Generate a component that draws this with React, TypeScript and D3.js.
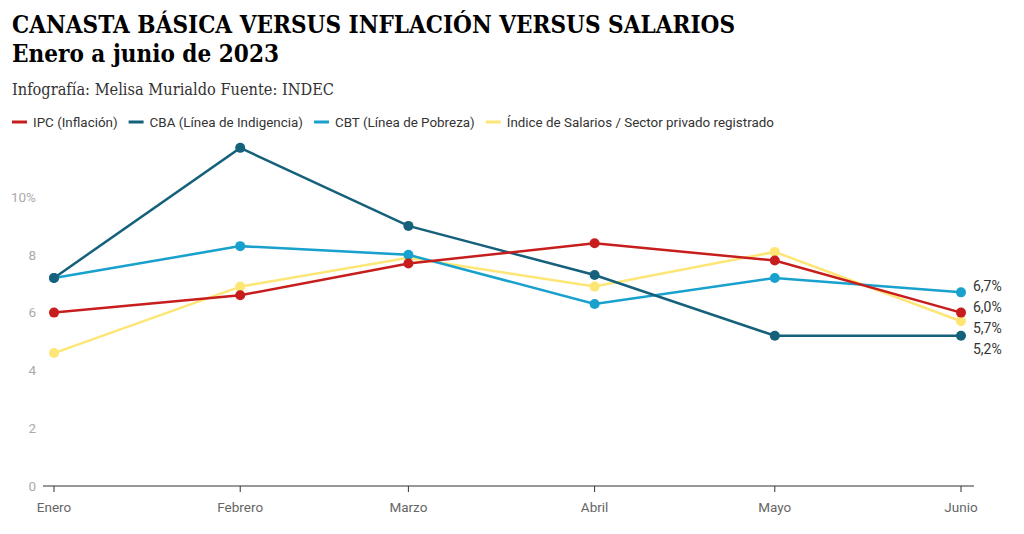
import React, { useEffect, useRef } from 'react';
import * as d3 from 'd3';

const months = ['Enero', 'Febrero', 'Marzo', 'Abril', 'Mayo', 'Junio'];
const monthDates = [
  new Date(2023, 0, 1), new Date(2023, 1, 1), new Date(2023, 2, 1),
  new Date(2023, 3, 1), new Date(2023, 4, 1), new Date(2023, 5, 1),
];

const ipc = [6.0, 6.6, 7.7, 8.4, 7.8, 6.0];
const cba = [7.2, 11.7, 9.0, 7.3, 5.2, 5.2];
const cbt = [7.2, 8.3, 8.0, 6.3, 7.2, 6.7];
const salarios = [4.6, 6.9, 7.9, 6.9, 8.1, 5.7];

const yTicks = [0, 2, 4, 6, 8, 10];

const series = [
  { name: 'IPC (Inflación)', values: ipc, color: '#c71e1d' },
  { name: 'CBA (Línea de Indigencia)', values: cba, color: '#15607a' },
  { name: 'CBT (Línea de Pobreza)', values: cbt, color: '#18a1cd' },
  { name: 'Índice de Salarios / Sector privado registrado', values: salarios, color: '#fee676' },
];

const W = 1024;
const H = 534;

const App: React.FC = () => {
  const svgRef = useRef<SVGSVGElement>(null);

  useEffect(() => {
    if (!svgRef.current) return;
    const svg = d3.select(svgRef.current);
    svg.selectAll('*').remove();

    const sans = 'Roboto, sans-serif';
    const serif = '"DejaVu Serif", serif';

    // header
    svg.append('text').attr('x', 12).attr('y', 33)
      .attr('font-family', serif).attr('font-weight', 700).attr('font-size', 24)
      .attr('fill', '#000')
      .attr('textLength', 723).attr('lengthAdjust', 'spacingAndGlyphs')
      .text('CANASTA BÁSICA VERSUS INFLACIÓN VERSUS SALARIOS');
    svg.append('text').attr('x', 12).attr('y', 62)
      .attr('font-family', serif).attr('font-weight', 700).attr('font-size', 24)
      .attr('fill', '#000')
      .attr('textLength', 267).attr('lengthAdjust', 'spacingAndGlyphs')
      .text('Enero a junio de 2023');
    svg.append('text').attr('x', 12).attr('y', 95)
      .attr('font-family', serif).attr('font-size', 16)
      .attr('fill', '#333')
      .attr('textLength', 322).attr('lengthAdjust', 'spacingAndGlyphs')
      .text('Infografía: Melisa Murialdo Fuente: INDEC');

    // legend
    let lx = 12;
    series.forEach(s => {
      const g = svg.append('g').attr('transform', `translate(${lx},122)`);
      g.append('line').attr('x1', 0).attr('x2', 15).attr('y1', 0).attr('y2', 0)
        .attr('stroke', s.color).attr('stroke-width', 3);
      const t = g.append('text').attr('x', 21).attr('y', 0).attr('dy', '0.35em')
        .attr('font-family', sans).attr('font-size', 13.4).attr('fill', '#333')
        .text(s.name);
      const len = (t.node() as SVGTextElement).getComputedTextLength();
      lx += 21 + len + 11;
    });

    const x = d3.scaleTime()
      .domain([monthDates[0], monthDates[5]])
      .range([54, 961]);
    const y = d3.scaleLinear().domain([0, 10]).range([486, 197]);

    // y labels
    svg.append('g').selectAll('text').data(yTicks).join('text')
      .attr('x', 36).attr('y', d => y(d)).attr('dy', '0.35em')
      .attr('text-anchor', 'end')
      .attr('font-family', sans).attr('font-size', 13.5).attr('fill', '#aaa')
      .text(d => (d === 10 ? '10%' : String(d)));

    // x axis
    const xAxis = svg.append('g');
    xAxis.append('line').attr('x1', 43).attr('x2', 974)
      .attr('y1', y(0)).attr('y2', y(0))
      .attr('stroke', '#333').attr('stroke-width', 1.2);
    xAxis.selectAll('line.tick').data(monthDates).join('line')
      .attr('class', 'tick')
      .attr('x1', d => x(d)).attr('x2', d => x(d))
      .attr('y1', y(0)).attr('y2', y(0) + 6)
      .attr('stroke', '#333').attr('stroke-width', 1);
    xAxis.selectAll('text').data(monthDates).join('text')
      .attr('x', d => x(d)).attr('y', y(0) + 21).attr('dy', '0.35em')
      .attr('text-anchor', 'middle')
      .attr('font-family', sans).attr('font-size', 13.5).attr('fill', '#666')
      .text((_, i) => months[i]);

    const line = d3.line<number>()
      .x((_, i) => x(monthDates[i]))
      .y(d => y(d));

    [...series].reverse().forEach(s => {
      svg.append('path').datum(s.values)
        .attr('fill', 'none').attr('stroke', s.color)
        .attr('stroke-width', 2.5).attr('d', line);
      svg.append('g').selectAll('circle').data(s.values).join('circle')
        .attr('cx', (_, i) => x(monthDates[i]))
        .attr('cy', d => y(d))
        .attr('r', 5)
        .attr('fill', s.color);
    });

    // end labels with collision avoidance
    const last = series.map(s => s.values[s.values.length - 1])
      .sort((a, b) => b - a);
    const desired = last.map(v => y(v));
    const pos = desired.slice();
    const gap = 21;
    for (let i = 1; i < pos.length; i++) {
      if (pos[i] - pos[i - 1] < gap) pos[i] = pos[i - 1] + gap;
    }
    const shift = d3.mean(desired)! - d3.mean(pos)!;
    const fmt = (v: number) => v.toFixed(1).replace('.', ',') + '%';
    svg.append('g').selectAll('text').data(last).join('text')
      .attr('x', 973).attr('y', (_, i) => pos[i] + shift + 2).attr('dy', '0.35em')
      .attr('font-family', sans).attr('font-size', 14).attr('fill', '#333')
      .text(d => fmt(d));
  }, []);

  return (
    <div style={{ position: 'absolute', left: 0, top: 0, width: W, height: H, background: '#fff' }}>
      <svg ref={svgRef} width={W} height={H} />
    </div>
  );
};

export default App;
